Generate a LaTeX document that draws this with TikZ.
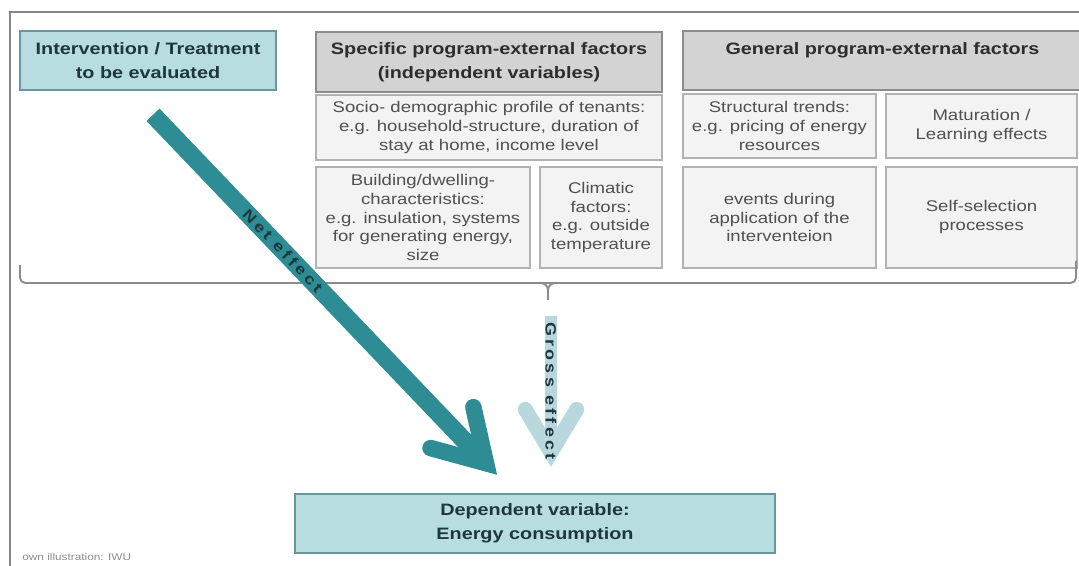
\documentclass[tikz,border=0pt]{standalone}
\usepackage{fontspec}
\setmainfont{Liberation Sans}[FakeStretch=1.2]
\newfontfamily\spacedfont{Liberation Sans}[FakeStretch=1.2,LetterSpace=22]
\usetikzlibrary{calc}
\definecolor{tealfill}{RGB}{183,221,225}
\definecolor{tealline}{RGB}{104,150,155}
\definecolor{hdrfill}{RGB}{211,211,211}
\definecolor{hdrline}{RGB}{140,140,140}
\definecolor{facfill}{RGB}{243,243,243}
\definecolor{facline}{RGB}{178,178,178}
\definecolor{netteal}{RGB}{46,140,148}
\definecolor{grossteal}{RGB}{184,216,221}
\definecolor{darktext}{RGB}{45,45,45}
\definecolor{bodytext}{RGB}{80,80,80}
\definecolor{tealtext}{RGB}{30,55,60}

\begin{document}
\begin{tikzpicture}[
  font=\fontsize{8.8}{10.8}\selectfont,
  sz/.style 2 args={minimum width=#1cm, minimum height=#2cm},
  hdr/.style={draw=hdrline, fill=hdrfill, line width=0.9pt, align=center, inner sep=0pt, text=darktext, font=\fontsize{9.4}{13.6}\selectfont\bfseries},
  keybox/.style={draw=tealline, fill=tealfill, line width=0.9pt, align=center, inner sep=0pt, text=tealtext, font=\fontsize{9.4}{13.6}\selectfont\bfseries},
  fac/.style={draw=facline, fill=facfill, line width=0.9pt, align=center, inner sep=0pt, text=bodytext},
  frame/.style={draw=black!48, line width=1.1pt},
  brace/.style={draw=black!45, line width=1.1pt},
  netarr/.style={draw=netteal, line width=0.36cm},
  netbarb/.style={draw=netteal, line width=0.33cm, line cap=round, line join=miter},
  grossarr/.style={draw=grossteal, line width=0.24cm},
  grossbarb/.style={draw=grossteal, line width=0.3cm, line cap=round, line join=miter},
  efftext/.style={text=tealtext, font=\spacedfont\fontsize{8.5}{10}\selectfont\bfseries, inner sep=0pt}
]
\useasboundingbox (0,0) rectangle (21.58,11.32);
% frame
\draw[frame] (0.2,-0.5) -- (0.2,11.08) -- (22,11.08);
% treatment
\node[keybox, sz={5.12}{1.18}] (int) at (2.96,10.11) {Intervention / Treatment\\to be evaluated};
% specific factors
\node[hdr, sz={6.92}{1.2}] (spec) at (9.78,10.08) {Specific program-external factors\\(independent variables)};
\node[fac, sz={6.92}{1.3}] (socio) at (9.78,8.77) {Socio- demographic profile of tenants:\\e.g. household-structure, duration of\\stay at home, income level};
\node[fac, sz={4.28}{2.02}] (build) at (8.46,6.97) {Building/dwelling-\\characteristics:\\e.g. insulation, systems\\for generating energy,\\size};
\node[fac, sz={2.44}{2.02}] (clim) at (12.02,6.97) {Climatic\\factors:\\e.g. outside\\temperature};
% general factors
\node[hdr, sz={7.98}{1.18}] (gen) at (17.65,10.11) {General program-external factors\\\mbox{}};
\node[fac, sz={3.86}{1.28}] (trend) at (15.59,8.8) {Structural trends:\\e.g. pricing of energy\\resources};
\node[fac, sz={3.82}{1.28}] (learn) at (19.63,8.8) {Maturation /\\Learning effects};
\node[fac, sz={3.86}{2.02}] (event) at (15.59,6.97) {events during\\application of the\\interventeion};
\node[fac, sz={3.82}{2.02}] (select) at (19.63,6.97) {Self-selection\\processes};
% outcome
\node[keybox, sz={9.6}{1.18}] (dep) at (10.7,0.85) {Dependent variable:\\Energy consumption};
\node[anchor=west, inner sep=0pt, text=black!45, font=\fontsize{5.6}{6}\selectfont] (src) at (0.44,0.18) {own illustration: IWU};
% brace
\draw[brace, rounded corners=3pt] (0.4,6.02) -- (0.4,5.66) -- (21.52,5.66) -- (21.52,6.1);
\draw[brace] (10.81,5.66) to[out=0,in=90] (10.96,5.52) to[out=90,in=180] (11.11,5.66);
\draw[brace] (10.96,5.52) -- (10.96,5.32) coordinate (brace);
% effects
\coordinate (netA) at ($(int.south)+(0.1,-0.48)$);
\coordinate (netB) at ($(dep.north)+(-0.98,0.6)$);
\coordinate (grossA) at ($(brace)+(0.06,-0.32)$);
\coordinate (grossB) at ($(dep.north)+(0.32,0.82)$);
\draw[netarr] (netA) -- (netB);
\draw[netbarb] ($(netB)!1.15cm!31:(netA)$) -- (netB) -- ($(netB)!1.15cm!-31:(netA)$);
\path (netA) -- (netB) node[efftext, pos=0.39, sloped] {Net effect};
\draw[grossarr] (grossA) -- (grossB);
\draw[grossbarb] ($(grossB)!1cm!31:(grossA)$) -- (grossB) -- ($(grossB)!1cm!-31:(grossA)$);
\path (grossA) -- (grossB) node[efftext, pos=0.55, rotate=-90] {Gross effect};
\end{tikzpicture}
\end{document}
